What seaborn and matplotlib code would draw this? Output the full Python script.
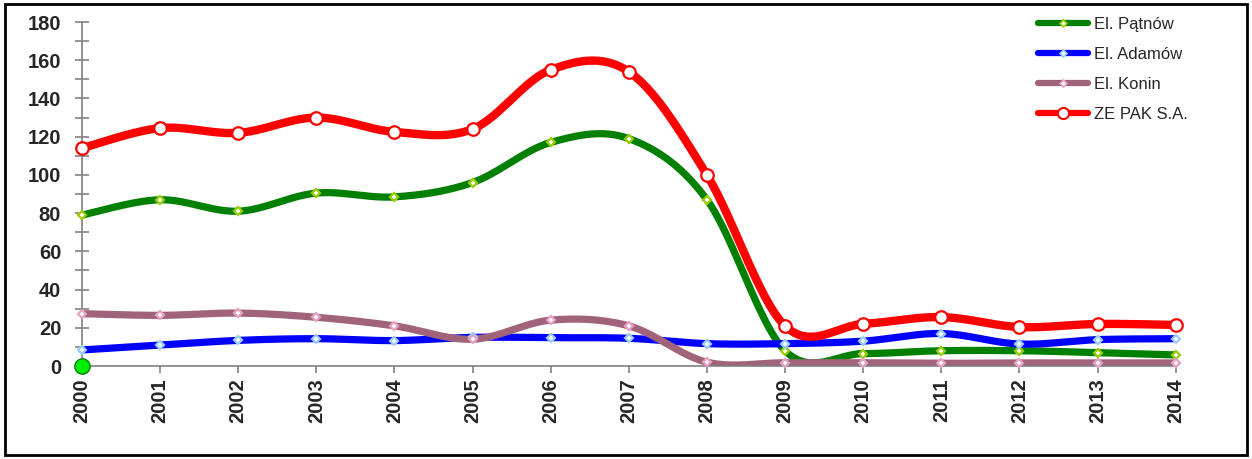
import numpy as np
import pandas as pd
import matplotlib
matplotlib.use('Agg')
import matplotlib.pyplot as plt
import seaborn as sns
from matplotlib.lines import Line2D
from matplotlib.patches import Rectangle
from matplotlib.ticker import MultipleLocator

years = list(range(2000, 2015))
patnow = [79, 87, 81, 90.5, 88.5, 96, 117, 119, 87, 8, 6.5, 8, 8, 7, 5.8]
adamow = [8.4, 11, 13.4, 14.3, 13.3, 15, 14.8, 14.5, 11.7, 11.7, 13, 17, 11.5, 13.8, 14.3]
konin = [27.4, 26.5, 27.7, 25.5, 21, 14, 24, 21, 2, 1.7, 1.7, 1.4, 1.6, 1.6, 1.6]
zepak = [114, 124.5, 122, 130, 122.5, 124, 155, 154, 100, 21, 22, 25.6, 20.4, 22, 21.5]

series = ['El. Pątnów', 'El. Adamów', 'El. Konin', 'ZE PAK S.A.']
values = [patnow, adamow, konin, zepak]
line_colors = ['#008000', '#0000ff', '#a0637a', '#ff0000']
marker_colors = ['#99cc00', '#99ccff', '#e6a0c4', '#ff0000']


def smooth(x, y, n=30):
    # Excel-style smoothed line (Catmull-Rom segments)
    x = np.asarray(x, float)
    y = np.asarray(y, float)
    px = np.concatenate([[x[0]], x, [x[-1]]])
    py = np.concatenate([[y[0]], y, [y[-1]]])
    xs, ys = [], []
    t = np.linspace(0, 1, n, endpoint=False)
    for i in range(1, len(px) - 2):
        p0, p1, p2, p3 = py[i - 1], py[i], py[i + 1], py[i + 2]
        q0, q1, q2, q3 = px[i - 1], px[i], px[i + 1], px[i + 2]
        b1y = p1 + (p2 - p0) / 6
        b2y = p2 - (p3 - p1) / 6
        b1x = q1 + (q2 - q0) / 6
        b2x = q2 - (q3 - q1) / 6
        xs.append((1 - t) ** 3 * q1 + 3 * (1 - t) ** 2 * t * b1x + 3 * (1 - t) * t ** 2 * b2x + t ** 3 * q2)
        ys.append((1 - t) ** 3 * p1 + 3 * (1 - t) ** 2 * t * b1y + 3 * (1 - t) * t ** 2 * b2y + t ** 3 * p2)
    xs.append([x[-1]])
    ys.append([y[-1]])
    return np.concatenate(xs), np.concatenate(ys)


sns.set_style('white')
plt.rcParams['font.family'] = ['Liberation Sans', 'DejaVu Sans']

fig = plt.figure(figsize=(12.52, 4.59), dpi=100)
ax = fig.add_axes([0.0655, 0.2026, 0.8735, 0.7494])

for name, vals, lc, mc in zip(series, values, line_colors, marker_colors):
    sx, sy = smooth(years, vals)
    df = pd.DataFrame({'x': sx, 'y': sy})
    lw = 6 if name == 'ZE PAK S.A.' else 5.2
    sns.lineplot(data=df, x='x', y='y', color=lc, linewidth=lw, ax=ax,
                 sort=False, estimator=None, zorder=2, solid_capstyle='butt')
    if name == 'ZE PAK S.A.':
        ax.plot(years, vals, linestyle='none', marker='o', markersize=9,
                markerfacecolor='white', markeredgecolor='#ff0000',
                markeredgewidth=1.6, zorder=4, clip_on=False)
    else:
        ax.plot(years, vals, linestyle='none', marker='D', markersize=4.5,
                markerfacecolor='white', markeredgecolor=mc,
                markeredgewidth=1.6, zorder=3, clip_on=False)

# green dot at origin
ax.plot([2000], [0], marker='o', markersize=11, markerfacecolor='#00ee00',
        markeredgecolor='#008000', markeredgewidth=1, linestyle='none',
        zorder=5, clip_on=False)

ax.set_xlim(2000, 2014)
ax.set_ylim(0, 180)
ax.set_xticks(years)
ax.set_xticklabels([str(y) for y in years], rotation=90, fontsize=14.5, fontweight='bold')
ax.yaxis.set_major_locator(MultipleLocator(20))
ax.yaxis.set_minor_locator(MultipleLocator(10))
for lab in ax.get_yticklabels():
    lab.set_fontsize(14.5)
    lab.set_fontweight('bold')
ax.set_xlabel('')
ax.set_ylabel('')

for s in ['top', 'right']:
    ax.spines[s].set_visible(False)
for s in ['left', 'bottom']:
    ax.spines[s].set_color('#808080')
    ax.spines[s].set_linewidth(1.2)
ax.tick_params(axis='y', which='both', direction='inout', length=10, width=1.2,
               color='#808080', left=True, pad=10)
ax.tick_params(axis='x', which='major', direction='out', length=5, width=1.2,
               color='#808080', bottom=True, pad=4)

handles = []
for name, lc, mc in zip(series, line_colors, marker_colors):
    if name == 'ZE PAK S.A.':
        h = Line2D([], [], color=lc, linewidth=4.5, marker='o', markersize=8,
                   markerfacecolor='white', markeredgecolor=lc, markeredgewidth=1.5)
    else:
        h = Line2D([], [], color=lc, linewidth=4.5, marker='D', markersize=3.5,
                   markerfacecolor='white', markeredgecolor=mc, markeredgewidth=1.2)
    handles.append(h)
fig.legend(handles, series, loc='upper left', bbox_to_anchor=(0.817, 0.995),
           frameon=False, fontsize=12, handlelength=3.0, handletextpad=0.35,
           labelspacing=0.9, markerscale=1)

fig.patches.append(Rectangle((0.004, 0.009), 0.992, 0.982, transform=fig.transFigure,
                             fill=False, edgecolor='black', linewidth=2))

fig.savefig('out.png', dpi=100)
